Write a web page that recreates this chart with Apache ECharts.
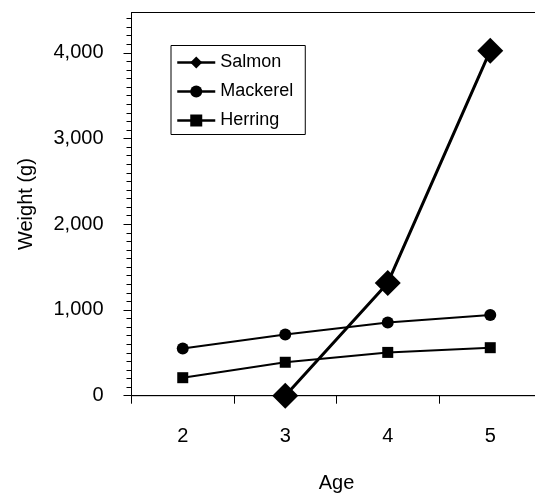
<!DOCTYPE html>
<html>
<head>
<meta charset="utf-8">
<script src="https://cdn.jsdelivr.net/npm/echarts@6/dist/echarts.min.js"></script>
<style>
html,body{margin:0;padding:0;background:#fff;width:535px;height:496px;overflow:hidden;}
#chart{width:552px;height:496px;}
</style>
</head>
<body>
<div id="chart"></div>
<script>
const ages = ['2', '3', '4', '5'];
const salmon = [null, 0, 1315, 4025];
const mackerel = [550, 715, 855, 940];
const herring = [210, 390, 505, 560];
const yTickValues = [0, 1000, 2000, 3000, 4000];
const yMax = 4470;

const FONT = 'Liberation Sans, Arial, sans-serif';
const chart = echarts.init(document.getElementById('chart'), null, { renderer: 'canvas' });
chart.setOption({
  animation: false,
  backgroundColor: '#fff',
  textStyle: { fontFamily: FONT, color: '#000' },
  grid: {
    left: 131.5, top: 12.5, width: 410, bottom: 100.3,
    outerBoundsMode: 'none',
    containLabel: false,
    show: true, borderColor: '#000', borderWidth: 1, backgroundColor: 'transparent'
  },
  legend: {
    orient: 'vertical',
    left: 171, top: 45.5,
    padding: [7, 12, 4, 5],
    itemWidth: 38, itemHeight: 15, itemGap: 9,
    backgroundColor: '#fff',
    borderColor: '#000', borderWidth: 1, borderRadius: 0,
    lineStyle: { width: 2.5, color: '#000' },
    textStyle: { fontFamily: FONT, fontSize: 18, color: '#000', lineHeight: 20 },
    data: ['Salmon', 'Mackerel', 'Herring']
  },
  xAxis: {
    type: 'category',
    data: ages,
    name: 'Age',
    nameLocation: 'middle',
    nameGap: 78,
    nameTextStyle: { fontFamily: FONT, fontSize: 20, color: '#000' },
    boundaryGap: true,
    axisLine: { lineStyle: { color: '#000', width: 1 } },
    axisTick: { show: true, inside: false, length: 8, interval: 0, alignWithLabel: false, lineStyle: { color: '#000' } },
    axisLabel: { fontFamily: FONT, fontSize: 20, color: '#000', margin: 31 },
    splitLine: { show: false }
  },
  yAxis: {
    type: 'value',
    min: 0, max: yMax, interval: 1000,
    name: 'Weight (g)',
    nameLocation: 'middle',
    nameGap: 95,
    nameRotate: 90,
    nameTextStyle: { fontFamily: FONT, fontSize: 20, color: '#000' },
    axisLine: { show: true, lineStyle: { color: '#000', width: 1 } },
    axisTick: { show: true, inside: false, length: 8, customValues: yTickValues, lineStyle: { color: '#000' } },
    minorTick: { show: true, splitNumber: 10, length: 5, lineStyle: { color: '#000' } },
    axisLabel: {
      fontFamily: FONT, fontSize: 20, color: '#000', margin: 28,
      customValues: yTickValues,
      formatter: v => (yTickValues.indexOf(v) >= 0 ? v.toLocaleString('en-US') : '')
    },
    splitLine: { show: false }
  },
  series: [
    {
      name: 'Mackerel', type: 'line', data: mackerel,
      symbol: 'circle', symbolSize: 12,
      lineStyle: { color: '#000', width: 2 },
      itemStyle: { color: '#000' }
    },
    {
      name: 'Herring', type: 'line', data: herring,
      symbol: 'rect', symbolSize: 11,
      lineStyle: { color: '#000', width: 2 },
      itemStyle: { color: '#000' }
    },
    {
      name: 'Salmon', type: 'line', data: salmon,
      symbol: 'diamond', symbolSize: 26,
      lineStyle: { color: '#000', width: 3 },
      itemStyle: { color: '#000' },
      connectNulls: false
    }
  ]
});
</script>
</body>
</html>
